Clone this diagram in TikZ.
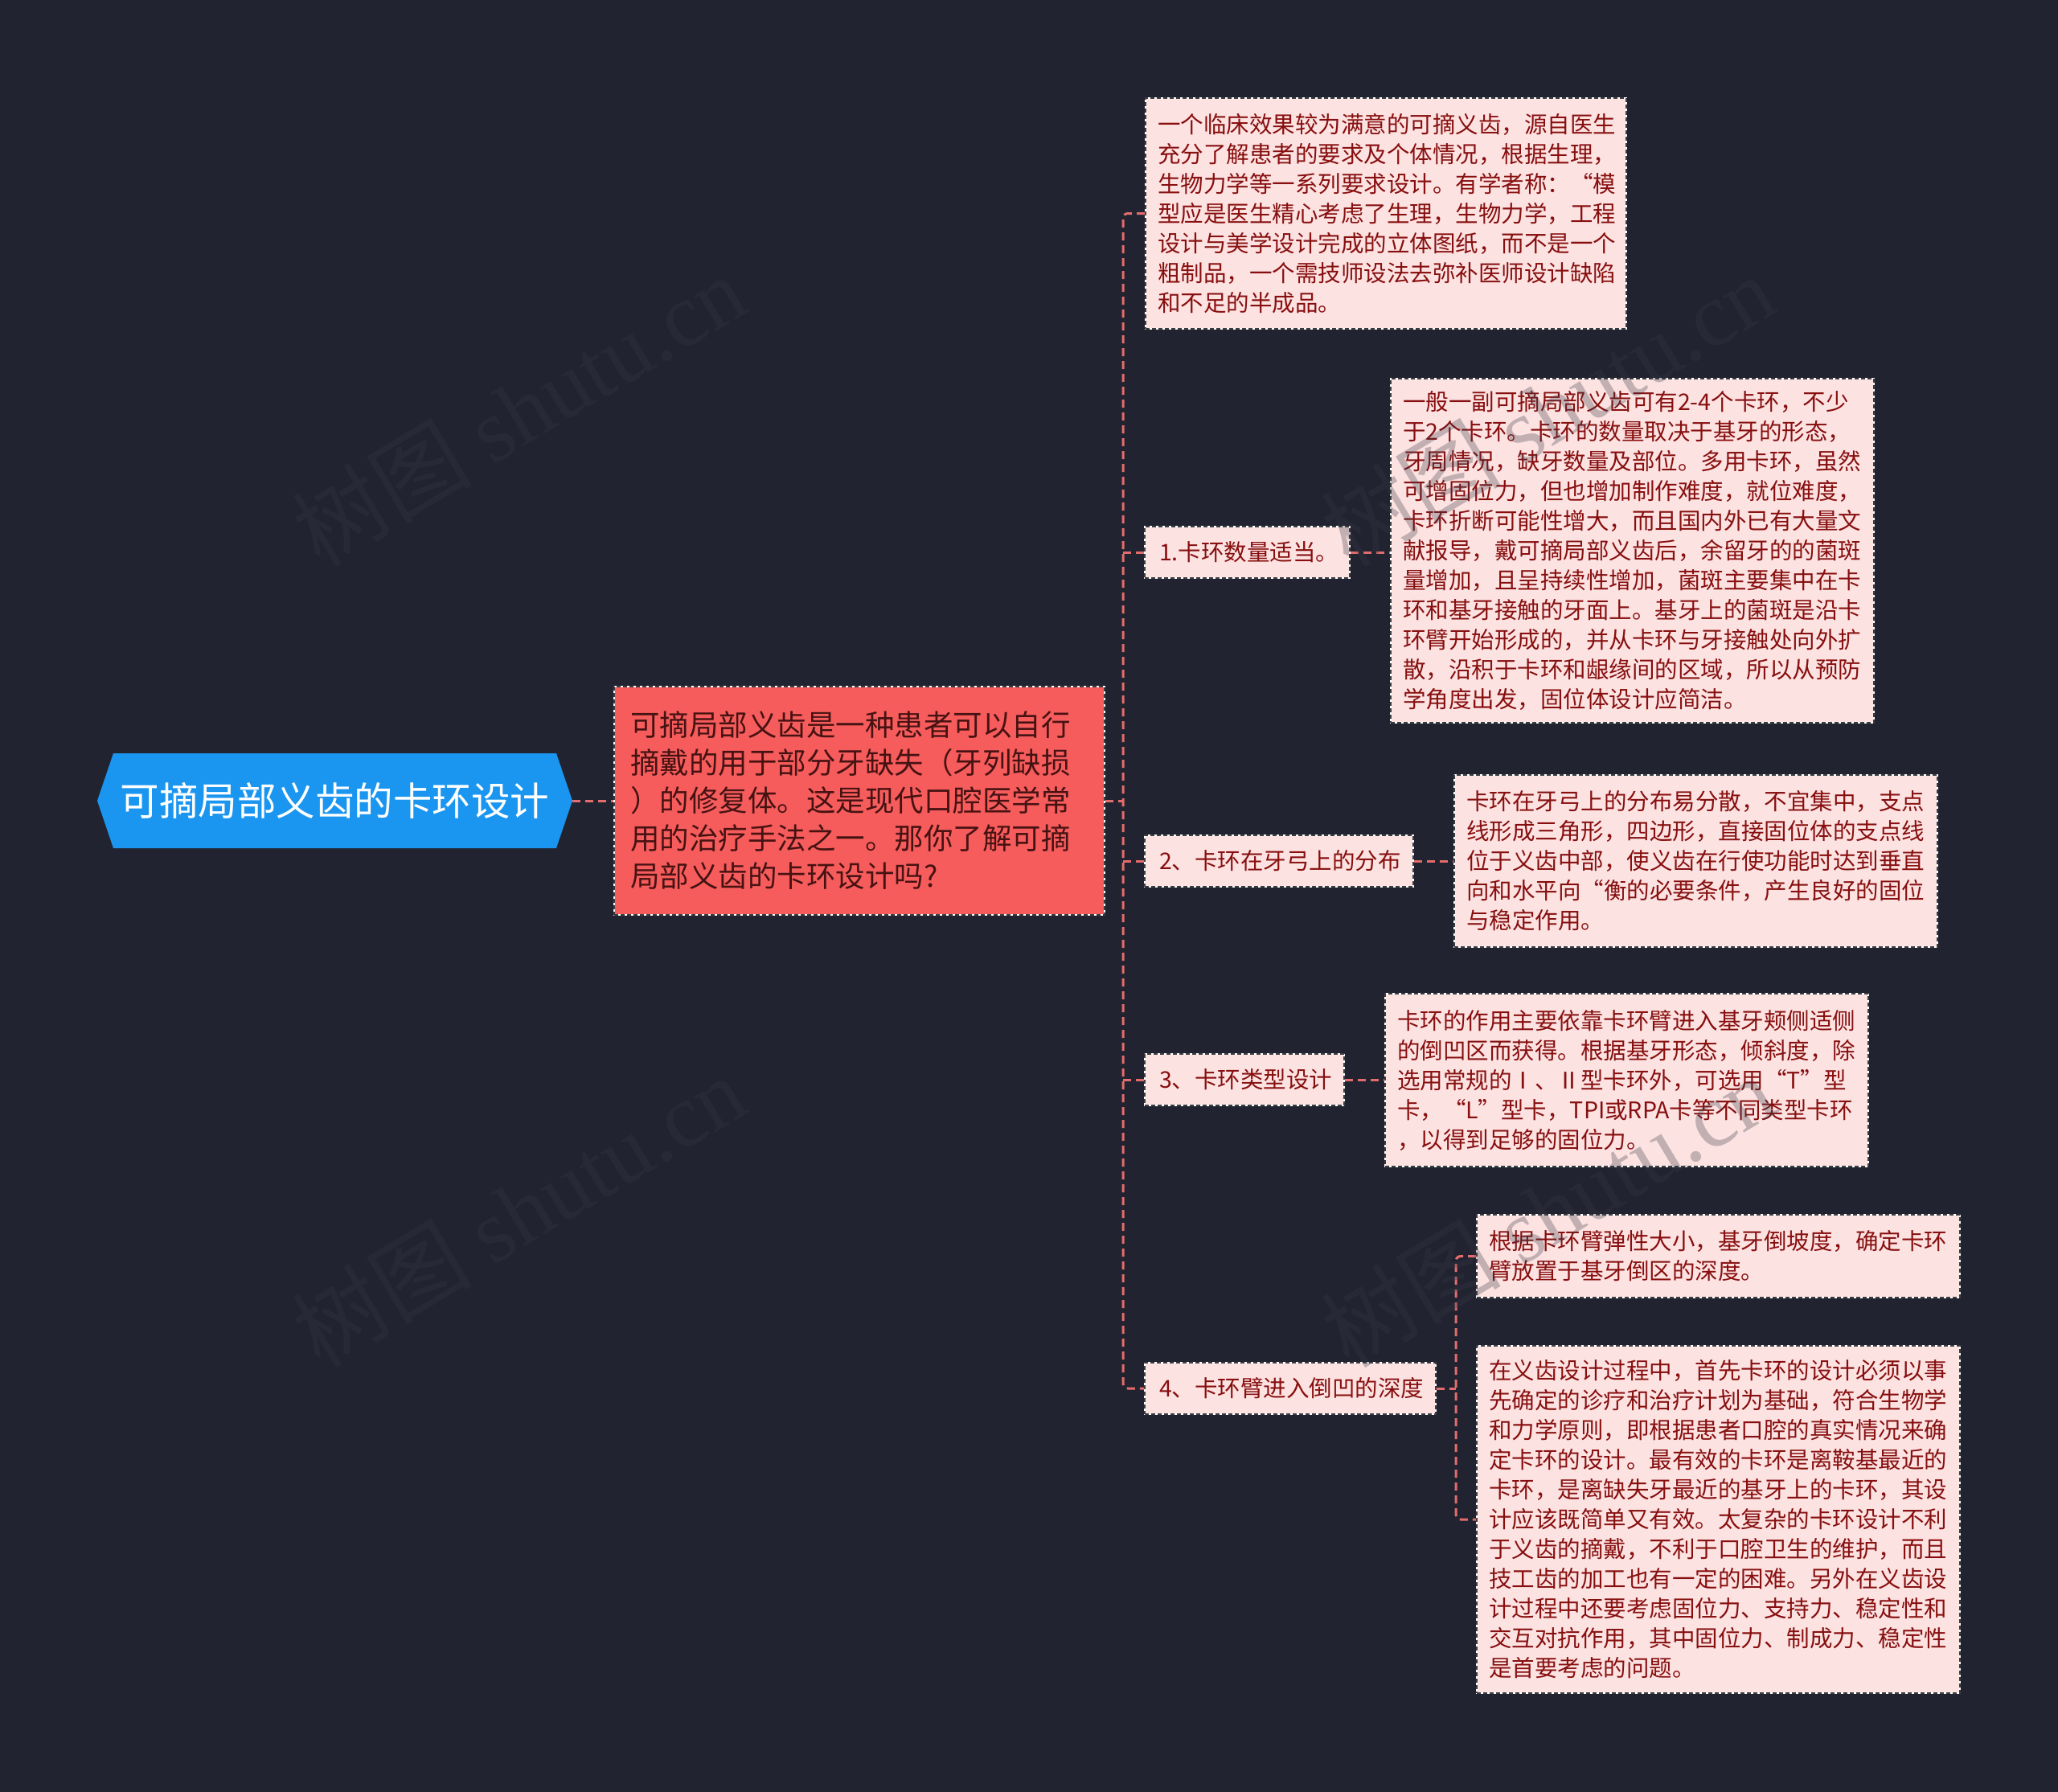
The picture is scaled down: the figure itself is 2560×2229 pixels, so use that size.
\documentclass[tikz,border=0pt]{standalone}
\usepackage{fontspec}
\setmainfont{Noto Sans CJK SC}
\newfontfamily\wmlatin{Liberation Serif}
\usetikzlibrary{calc}
\definecolor{bgc}{RGB}{33,36,48}
\definecolor{rootblue}{RGB}{26,150,240}
\definecolor{redfill}{RGB}{246,92,92}
\definecolor{redtext}{RGB}{70,18,18}
\definecolor{pinkfill}{RGB}{253,226,226}
\definecolor{pinktext}{RGB}{135,15,15}
\definecolor{edgec}{RGB}{60,60,64}
\definecolor{connc}{RGB}{228,108,108}
\definecolor{wmc}{RGB}{55,58,68}
\tikzset{
  boxedge/.style={draw=white, line width=2pt,
    postaction={draw=edgec, line width=2pt, dash pattern=on 5pt off 3pt}},
  pinkbox/.style={boxedge, anchor=north west, fill=pinkfill, text=pinktext,
    inner xsep=15pt, inner ysep=0pt, align=left,
    font=\fontsize{28.5}{37}\selectfont},
  labelbox/.style={boxedge, anchor=west, fill=pinkfill, text=pinktext,
    inner xsep=18pt, inner ysep=0pt, align=left, minimum height=64pt,
    font=\fontsize{28.5}{37}\selectfont},
  redbox/.style={boxedge, anchor=north west, fill=redfill, text=redtext,
    inner xsep=20pt, inner ysep=0pt, align=left,
    font=\fontsize{36.5}{47}\selectfont},
  conn/.style={draw=connc, line width=3pt, dash pattern=on 10pt off 6pt},
  wmark/.style={text=wmc, opacity=0.3, rotate=31, inner sep=0pt, font=\fontsize{112}{112}\selectfont}
}
\begin{document}
\begin{tikzpicture}[x=1pt,y=-1pt]
\fill[bgc] (0,0) rectangle (2560,2229);
\useasboundingbox (0,0) rectangle (2560,2229);

% root
\fill[rootblue] (141,937) -- (692,937) -- (712,996) -- (692,1055) -- (141,1055) -- (121,996) -- cycle;
\node[minimum width=591pt, minimum height=118pt, inner sep=0pt, text=white,
  font=\fontsize{48.5}{50}\selectfont] (root) at (416.5,996) {可摘局部义齿的卡环设计};

% intro box
\node[redbox, text width=570pt, minimum width=610pt, minimum height=284pt] (intro) at (763,853)
{可摘局部义齿是一种患者可以自行\\摘戴的用于部分牙缺失（牙列缺损\\）的修复体。这是现代口腔医学常\\用的治疗手法之一。那你了解可摘\\局部义齿的卡环设计吗?};

% top box
\node[pinkbox, text width=568pt, minimum width=598pt, minimum height=287pt] (a0) at (1424,121)
{一个临床效果较为满意的可摘义齿，源自医生\\充分了解患者的要求及个体情况，根据生理，\\生物力学等一系列要求设计。有学者称：“模\\型应是医生精心考虑了生理，生物力学，工程\\设计与美学设计完成的立体图纸，而不是一个\\粗制品，一个需技师设法去弥补医师设计缺陷\\和不足的半成品。};

% labels
\node[labelbox, text width=219pt, minimum width=255pt] (l1) at (1423,687) {1.卡环数量适当。};
\node[labelbox, text width=298pt, minimum width=334pt] (l2) at (1423,1071) {2、卡环在牙弓上的分布};
\node[labelbox, text width=212pt, minimum width=248pt] (l3) at (1423,1343) {3、卡环类型设计};
\node[labelbox, text width=326pt, minimum width=362pt] (l4) at (1423,1727) {4、卡环臂进入倒凹的深度};

% detail boxes
\node[pinkbox, text width=571pt, minimum width=601pt, minimum height=428pt] (b1) at (1729,470)
{一般一副可摘局部义齿可有2-4个卡环，不少\\于2个卡环。卡环的数量取决于基牙的形态，\\牙周情况，缺牙数量及部位。多用卡环，虽然\\可增固位力，但也增加制作难度，就位难度，\\卡环折断可能性增大，而且国内外已有大量文\\献报导，戴可摘局部义齿后，余留牙的的菌斑\\量增加，且呈持续性增加，菌斑主要集中在卡\\环和基牙接触的牙面上。基牙上的菌斑是沿卡\\环臂开始形成的，并从卡环与牙接触处向外扩\\散，沿积于卡环和龈缘间的区域，所以从预防\\学角度出发，固位体设计应简洁。};

\node[pinkbox, text width=571pt, minimum width=601pt, minimum height=214pt] (b2) at (1808,963)
{卡环在牙弓上的分布易分散，不宜集中，支点\\线形成三角形，四边形，直接固位体的支点线\\位于义齿中部，使义齿在行使功能时达到垂直\\向和水平向“衡的必要条件，产生良好的固位\\与稳定作用。};

\node[pinkbox, text width=571pt, minimum width=601pt, minimum height=215pt] (b3) at (1722,1235)
{卡环的作用主要依靠卡环臂进入基牙颊侧适侧\\的倒凹区而获得。根据基牙形态，倾斜度，除\\选用常规的Ⅰ、Ⅱ型卡环外，可选用“T”型\\卡，“L”型卡，TPI或RPA卡等不同类型卡环\\，以得到足够的固位力。};

\node[pinkbox, text width=571pt, minimum width=601pt, minimum height=103pt] (b4a) at (1836,1510)
{根据卡环臂弹性大小，基牙倒坡度，确定卡环\\臂放置于基牙倒区的深度。};

\node[pinkbox, text width=571pt, minimum width=601pt, minimum height=432pt] (b4b) at (1836,1673)
{在义齿设计过程中，首先卡环的设计必须以事\\先确定的诊疗和治疗计划为基础，符合生物学\\和力学原则，即根据患者口腔的真实情况来确\\定卡环的设计。最有效的卡环是离鞍基最近的\\卡环，是离缺失牙最近的基牙上的卡环，其设\\计应该既简单又有效。太复杂的卡环设计不利\\于义齿的摘戴，不利于口腔卫生的维护，而且\\技工齿的加工也有一定的困难。另外在义齿设\\计过程中还要考虑固位力、支持力、稳定性和\\交互对抗作用，其中固位力、制成力、稳定性\\是首要考虑的问题。};

% connectors
\coordinate (sx) at (1397,0);
\coordinate (sx2) at (1811,0);
\draw[conn] (root.east) -- (intro.west);
\draw[conn] (intro.east) -- (intro.east -| sx);
\draw[conn, rounded corners=6pt] (a0.west) -- (a0.west -| sx) -- (l4.west -| sx) -- (l4.west);
\draw[conn] (l1.west -| sx) -- (l1.west);
\draw[conn] (l2.west -| sx) -- (l2.west);
\draw[conn] (l3.west -| sx) -- (l3.west);
\draw[conn] (l1.east) -- (l1.east -| b1.west);
\draw[conn] (l2.east) -- (l2.east -| b2.west);
\draw[conn] (l3.east) -- (l3.east -| b3.west);
\draw[conn] (l4.east) -- (l4.east -| sx2);
\draw[conn, rounded corners=6pt] (b4a.west) -- (b4a.west -| sx2) -- (b4b.west -| sx2) -- (b4b.west);

% watermarks
\node[wmark] (w1) at (645,510) {树图 {\wmlatin shutu.cn}};
\node[wmark] (w2) at (1925,510) {树图 {\wmlatin shutu.cn}};
\node[wmark] (w3) at (645,1506) {树图 {\wmlatin shutu.cn}};
\node[wmark] (w4) at (1925,1506) {树图 {\wmlatin shutu.cn}};
\end{tikzpicture}
\end{document}
